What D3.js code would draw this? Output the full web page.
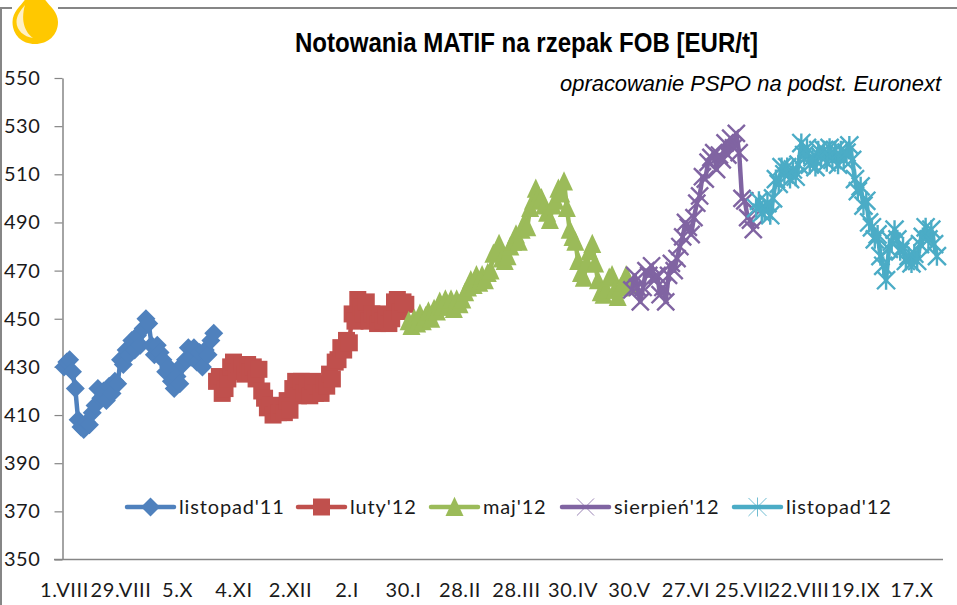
<!DOCTYPE html>
<html>
<head>
<meta charset="utf-8">
<script src="https://cdn.jsdelivr.net/npm/d3@7"></script>
<style>
  html, body { margin: 0; padding: 0; background: #fff; }
  svg { display: block; }
  .lbl { font-family: Lato, "Open Sans", sans-serif; font-size: 20px; fill: #1a1a1a; letter-spacing: 0.6px; }
  .leg { letter-spacing: 0.85px; }
</style>
</head>
<body>
<svg id="chart" width="957" height="605"></svg>
<script>
// Values (EUR/t), one entry per trading day
const seriesNames = ["listopad'11", "luty'12", "maj'12", "sierpień'12", "listopad'12"];
const seriesColors = ['#4f81bd', '#c0504d', '#9bbb59', '#8064a2', '#4bacc6'];
const seriesMarkers = ['diamond', 'square', 'triangle', 'x', 'star'];
const seriesStart = [0, 54, 122, 201, 245]; // first trading day of each series

const listopad11 = [
  430, 432, 433, 428, 421, 408, 405, 404, 407, 406, 411, 414, 421, 417, 420, 416, 422, 419, 424, 423,
  433, 431, 437, 435, 441, 437, 443, 439, 446, 450, 448, 439, 435, 439, 436, 433, 428, 430, 424, 421,
  426, 423, 431, 433, 438, 434, 438, 432, 436, 430, 437, 435, 441, 444
];
const luty12 = [
  424, 426, 419, 421, 425, 430, 432, 428, 431, 431, 427, 431, 428, 430, 425, 429, 420, 417, 413, 414,
  410, 414, 411, 414, 411, 416, 412, 421, 424, 418, 424, 419, 423, 418, 424, 419, 422, 419, 423, 422,
  427, 425, 432, 433, 438, 437, 441, 440, 452, 449, 458, 455, 452, 457, 449, 452, 450, 448, 452, 449,
  451, 448, 450, 457, 458, 453, 457, 456
];
const maj12 = [
  449, 447, 450, 448, 452, 449, 451, 453, 450, 454, 453, 457, 455, 458, 455, 458, 454, 458, 456, 458,
  461, 463, 466, 464, 468, 465, 468, 466, 469, 470, 477, 478, 481, 475, 474, 476, 480, 482, 485, 482,
  487, 490, 488, 496, 499, 504, 501, 500, 497, 494, 491, 497, 499, 504, 502, 507, 496, 487, 484, 482,
  474, 469, 467, 473, 478, 481, 473, 466, 461, 460, 462, 467, 468, 462, 459, 463, 465, 468, 464
];
const sierpien12 = [
  462, 468, 463, 457, 463, 470, 468, 472, 466, 468, 460, 463, 457, 468, 473, 470, 475, 480, 484, 490,
  488, 485, 492, 498, 501, 509, 508, 515, 517, 519, 512, 518, 516, 523, 518, 525, 521, 527, 519, 500,
  499, 492, 491, 487
];
const listopad12 = [
  496, 499, 494, 495, 498, 493, 500, 508, 506, 513, 510, 513, 508, 512, 509, 514, 523, 518, 521, 514,
  517, 513, 520, 517, 520, 515, 521, 516, 520, 514, 520, 516, 519, 522, 516, 508, 503, 505, 497, 499,
  490, 488, 483, 485, 476, 472, 466, 479, 482, 487, 483, 478, 480, 474, 476, 473, 477, 474, 481, 484,
  488, 483, 487, 481, 476
];
const seriesValues = [listopad11, luty12, maj12, sierpien12, listopad12];

const xTickLabels = ['1.VIII', '29.VIII', '5.X', '4.XI', '2.XII', '2.I', '30.I', '28.II', '28.III',
  '30.IV', '30.V', '27.VI', '25.VII', '22.VIII', '19.IX', '17.X'];
const tickEvery = 20; // a label every 20 trading days
const yTicks = [350, 370, 390, 410, 430, 450, 470, 490, 510, 530, 550];

const svg = d3.select('#chart');

// Scales
const x = d3.scaleLinear().domain([0, 310]).range([64, 64 + 310 * 2.825]);
const y = d3.scaleLinear().domain([350, 550]).range([559.5, 78]);

// Outer frame, cut by the oil drop
const frameColor = '#868686';
svg.append('path')
  .attr('d', 'M1,605V8H957')
  .attr('fill', 'none')
  .attr('stroke', frameColor)
  .attr('stroke-width', 2);

// Oil drop logo
svg.append('path')
  .attr('d', 'M12,10H58V0H12Z')
  .attr('fill', '#fff');
svg.append('path')
  .attr('d', 'M27,-4C24,4 12.5,10 12.5,22C12.5,35 22,44 35,44C48,44 58,35 58,22C58,10 46,4 43,-4Z')
  .attr('fill', '#ffc800');
svg.append('path')
  .attr('d', 'M25,5C20,11 16.5,16 16.5,22C16.5,30 24,37 33,38C26,33 20,22 25,5Z')
  .attr('fill', '#fff0c4');

// Title and source note
svg.append('text')
  .attr('x', 295).attr('y', 52)
  .attr('font-family', '"Liberation Sans", Arial, sans-serif')
  .attr('font-weight', 'bold')
  .attr('font-size', 27)
  .attr('textLength', 463)
  .attr('lengthAdjust', 'spacingAndGlyphs')
  .attr('fill', '#000')
  .text('Notowania MATIF na rzepak FOB [EUR/t]');

svg.append('text')
  .attr('x', 941).attr('y', 91)
  .attr('text-anchor', 'end')
  .attr('font-family', '"Liberation Sans", Arial, sans-serif')
  .attr('font-style', 'italic')
  .attr('font-size', 21.9)
  .attr('fill', '#000')
  .text('opracowanie PSPO na podst. Euronext');

// Axes
const yAxis = d3.axisLeft(y).tickValues(yTicks).tickSize(8).tickSizeOuter(0).tickPadding(14);
const gy = svg.append('g').attr('transform', 'translate(62.5,0)').call(yAxis);

const xAxis = d3.axisBottom(x)
  .tickValues(xTickLabels.map((d, i) => i * tickEvery))
  .tickFormat((d) => xTickLabels[d / tickEvery])
  .tickSize(0)
  .tickSizeOuter(0)
  .tickPadding(23);
const gx = svg.append('g').attr('transform', 'translate(0,559.5)').call(xAxis);

gx.select('.domain').attr('d', 'M54,0H943');

[gy, gx].forEach((g) => {
  g.selectAll('.domain').attr('stroke', frameColor).attr('stroke-width', 1.5);
  g.selectAll('.tick line').attr('stroke', frameColor).attr('stroke-width', 1.2);
  g.selectAll('text').attr('class', 'lbl').attr('font-family', null).attr('font-size', null);
});

// Marker shapes
function markerPath(kind, r) {
  const a = r * 0.95;
  switch (kind) {
    case 'diamond':
      return `M0,${-r}L${r},0L0,${r}L${-r},0Z`;
    case 'square':
      return `M${-r},${-r}H${r}V${r}H${-r}Z`;
    case 'triangle':
      return `M0,${-r * 1.15}L${r},${r}H${-r}Z`;
    case 'x':
      return `M${-a},${-a}L${a},${a}M${a},${-a}L${-a},${a}`;
    default:
      return `M${-a},${-a}L${a},${a}M${a},${-a}L${-a},${a}M0,${-r}V${r}`;
  }
}
const markerSize = { diamond: 9.5, square: 8.5, triangle: 9, x: 9, star: 9.5 };

function drawMarker(sel, kind, color, r) {
  const open = kind === 'x' || kind === 'star';
  sel.attr('d', markerPath(kind, r))
    .attr('fill', open ? 'none' : color)
    .attr('stroke', open ? color : 'none')
    .attr('stroke-width', open ? 2.4 : 0);
}

// Series
const line = d3.line()
  .x((d) => x(d.day))
  .y((d) => y(d.value));

seriesNames.forEach((name, s) => {
  const points = seriesValues[s].map((value, i) => ({ day: seriesStart[s] + i, value }));
  const g = svg.append('g');
  g.append('path')
    .datum(points)
    .attr('d', line)
    .attr('fill', 'none')
    .attr('stroke', seriesColors[s])
    .attr('stroke-width', 4.5)
    .attr('stroke-linejoin', 'round');
  g.selectAll('path.marker')
    .data(points)
    .enter()
    .append('path')
    .attr('class', 'marker')
    .attr('transform', (d) => `translate(${x(d.day)},${y(d.value)})`)
    .call(drawMarker, seriesMarkers[s], seriesColors[s], markerSize[seriesMarkers[s]]);
});

// Legend
const legendLeft = [127, 298, 431, 562, 734];
const legendY = 507;
seriesNames.forEach((name, s) => {
  const g = svg.append('g').attr('transform', `translate(${legendLeft[s]},${legendY})`);
  g.append('line')
    .attr('x1', 0).attr('x2', 47)
    .attr('stroke', seriesColors[s])
    .attr('stroke-width', 4.5)
    .attr('stroke-linecap', 'round');
  g.append('path')
    .attr('transform', 'translate(23.5,0)')
    .call(drawMarker, seriesMarkers[s], seriesColors[s], markerSize[seriesMarkers[s]])
    .attr('stroke-width', seriesMarkers[s] === 'x' || seriesMarkers[s] === 'star' ? 0.8 : 0);
  g.append('text')
    .attr('class', 'lbl leg')
    .attr('x', 52)
    .attr('y', 7)
    .text(name);
});
</script>
</body>
</html>
